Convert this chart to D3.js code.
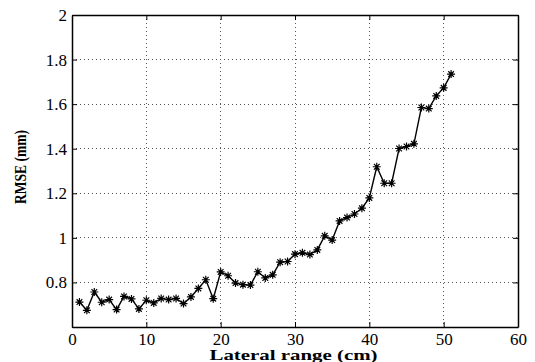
<!DOCTYPE html>
<html>
<head>
<meta charset="utf-8">
<script src="https://cdn.jsdelivr.net/npm/d3@7"></script>
<style>
  html, body { margin: 0; padding: 0; background: #fff; }
  svg { display: block; }
</style>
</head>
<body>
<svg id="chart" width="535" height="362" font-family="Liberation Serif"></svg>
<script>
// Lateral position (cm) of each measurement
const lateralRange = d3.range(1, 52);
// RMSE at each lateral position (mm)
const rmse = [
  0.712, 0.675, 0.757, 0.711, 0.723, 0.678, 0.737, 0.726, 0.681, 0.720,
  0.708, 0.728, 0.723, 0.728, 0.705, 0.735, 0.773, 0.812, 0.727, 0.847,
  0.830, 0.797, 0.790, 0.788, 0.848, 0.820, 0.834, 0.891, 0.894, 0.927,
  0.933, 0.925, 0.946, 1.009, 0.990, 1.076, 1.091, 1.107, 1.133, 1.179,
  1.319, 1.245, 1.245, 1.401, 1.410, 1.422, 1.585, 1.580, 1.637, 1.673,
  1.735
];
const xTicks = [0, 10, 20, 30, 40, 50, 60];
const yTicks = [0.6, 0.8, 1, 1.2, 1.4, 1.6, 1.8, 2];
const yLabels = ["", "0.8", "1", "1.2", "1.4", "1.6", "1.8", "2"];

const svg = d3.select("#chart");
const m = { left: 72, right: 518, top: 15, bottom: 327 };

const x = d3.scaleLinear().domain([0, 60]).range([m.left, m.right]);
const y = d3.scaleLinear().domain([0.6, 2]).range([m.bottom, m.top]);

// dotted grid
const grid = svg.append("g").attr("stroke", "#555").attr("stroke-width", 1)
  .attr("stroke-dasharray", "1,3").attr("shape-rendering", "crispEdges");
xTicks.slice(1, -1).forEach(t => {
  grid.append("line").attr("x1", x(t)).attr("x2", x(t)).attr("y1", m.top).attr("y2", m.bottom);
});
yTicks.slice(1, -1).forEach(t => {
  grid.append("line").attr("x1", m.left).attr("x2", m.right).attr("y1", y(t)).attr("y2", y(t));
});

// axes with inward ticks on all four sides
const tickLen = 5;
const axB = svg.append("g").attr("transform", `translate(0,${m.bottom})`)
  .call(d3.axisBottom(x).tickValues(xTicks).tickSizeInner(-tickLen).tickSizeOuter(0).tickPadding(6).tickFormat(d3.format("d")));
const axT = svg.append("g").attr("transform", `translate(0,${m.top})`)
  .call(d3.axisTop(x).tickValues(xTicks).tickSizeInner(-tickLen).tickSizeOuter(0).tickFormat(""));
const axL = svg.append("g").attr("transform", `translate(${m.left},0)`)
  .call(d3.axisLeft(y).tickValues(yTicks).tickSizeInner(-tickLen).tickSizeOuter(0).tickPadding(5)
    .tickFormat((d, i) => yLabels[i]));
const axR = svg.append("g").attr("transform", `translate(${m.right},0)`)
  .call(d3.axisRight(y).tickValues(yTicks).tickSizeInner(-tickLen).tickSizeOuter(0).tickFormat(""));

[axB, axT, axL, axR].forEach(a => {
  a.attr("font-family", "Liberation Serif").attr("font-size", 17);
  a.select(".domain").attr("stroke", "#000").attr("stroke-width", 1.5);
  a.selectAll(".tick line").attr("stroke", "#000");
  a.selectAll("text").attr("fill", "#000");
});

// data line
const line = d3.line().x((d, i) => x(lateralRange[i])).y(d => y(d));
svg.append("path").datum(rmse).attr("d", line)
  .attr("fill", "none").attr("stroke", "#000").attr("stroke-width", 1.4);

// eight-armed asterisk marker (plus + cross)
const asterisk8 = {
  draw(ctx, size) {
    const r = Math.sqrt(size) / 2;
    const d = r * Math.SQRT1_2;
    ctx.moveTo(-r, 0); ctx.lineTo(r, 0);
    ctx.moveTo(0, -r); ctx.lineTo(0, r);
    ctx.moveTo(-d, -d); ctx.lineTo(d, d);
    ctx.moveTo(-d, d); ctx.lineTo(d, -d);
  }
};
const star = d3.symbol().type(asterisk8).size(64);
svg.append("g").selectAll("path").data(rmse).join("path")
  .attr("transform", (d, i) => `translate(${x(lateralRange[i])},${y(d)})`)
  .attr("d", star).attr("stroke", "#000").attr("stroke-width", 1.2).attr("fill", "none");

// axis titles
svg.append("text").attr("x", 293.5).attr("y", 359.5)
  .attr("text-anchor", "middle")
  .attr("font-size", 15.5).attr("font-weight", "bold")
  .attr("textLength", 168).attr("lengthAdjust", "spacingAndGlyphs")
  .text("Lateral range (cm)");
svg.append("text").attr("transform", `translate(26,${(m.top + m.bottom) / 2 - 4}) rotate(-90)`)
  .attr("text-anchor", "middle")
  .attr("font-size", 16).attr("font-weight", "bold")
  .attr("textLength", 74).attr("lengthAdjust", "spacingAndGlyphs")
  .text("RMSE (mm)");
</script>
</body>
</html>
